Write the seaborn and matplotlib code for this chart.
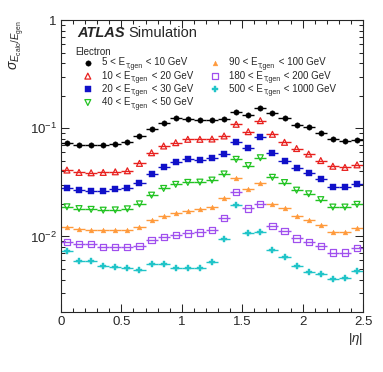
import numpy as np
import pandas as pd
import matplotlib
matplotlib.use("Agg")
import matplotlib.pyplot as plt
import matplotlib.ticker as mticker
import matplotlib.transforms as mtransforms
import seaborn as sns

sns.set_style("ticks")
plt.rcParams["font.family"] = ["Liberation Sans", "DejaVu Sans"]
plt.rcParams["mathtext.fontset"] = "custom"
plt.rcParams["mathtext.rm"] = "Liberation Sans"
plt.rcParams["mathtext.it"] = "Liberation Sans:italic"
plt.rcParams["mathtext.bf"] = "Liberation Sans:bold"

# |eta| bins of width 0.1
eta = np.linspace(0.05, 2.45, 25)
eta_halfwidth = 0.05

# resolution sigma(E_calo/E_gen) per ET bin
res_5_10 = [0.0736, 0.0698, 0.0698, 0.0708, 0.0719, 0.0750, 0.0849, 0.0979, 0.1129, 0.1232,
            0.1224, 0.1189, 0.1201, 0.1219, 0.1425, 0.1319, 0.1542, 0.1377, 0.1251, 0.1073,
            0.1022, 0.0911, 0.0788, 0.0758, 0.0786]
res_10_20 = [0.0411, 0.0391, 0.0388, 0.0391, 0.0396, 0.0405, 0.0474, 0.0594, 0.0686, 0.0736,
             0.0791, 0.0791, 0.0796, 0.0849, 0.1089, 0.0930, 0.1176, 0.0880, 0.0742, 0.0650,
             0.0578, 0.0503, 0.0446, 0.0435, 0.0459]
res_20_30 = [0.0280, 0.0268, 0.0264, 0.0264, 0.0272, 0.0278, 0.0313, 0.0378, 0.0435, 0.0484,
             0.0516, 0.0509, 0.0527, 0.0574, 0.0742, 0.0661, 0.0822, 0.0587, 0.0495, 0.0426,
             0.0390, 0.0339, 0.0286, 0.0288, 0.0304]
res_40_50 = [0.0188, 0.0181, 0.0178, 0.0175, 0.0176, 0.0180, 0.0200, 0.0241, 0.0278, 0.0303,
             0.0316, 0.0318, 0.0332, 0.0378, 0.0516, 0.0452, 0.0534, 0.0352, 0.0315, 0.0268,
             0.0248, 0.0219, 0.0187, 0.0187, 0.0198]
res_90_100 = [0.01227, 0.01163, 0.01151, 0.01136, 0.01136, 0.01156, 0.01219, 0.01425, 0.01532, 0.01633,
              0.01733, 0.01782, 0.01855, 0.02248, 0.0349, 0.0272, 0.0315, 0.0198, 0.01816, 0.01542,
              0.0141, 0.01286, 0.01089, 0.01089, 0.01186]
res_180_200 = [0.00895, 0.00849, 0.00849, 0.00801, 0.00801, 0.00801, 0.00818, 0.00924, 0.00992, 0.01028,
               0.01066, 0.01089, 0.01144, 0.01487, 0.0259, 0.01816, 0.0200, 0.01246, 0.01127, 0.00958,
               0.00891, 0.00817, 0.00711, 0.00711, 0.00788]
res_500_1000 = [0.00736, 0.00591, 0.00591, 0.00539, 0.00523, 0.00506, 0.00488, 0.00554, 0.00554, 0.00506,
                0.00506, 0.00516, 0.00575, 0.00944, 0.0195, 0.01066, 0.01096, 0.00758, 0.00643, 0.00534,
                0.0047, 0.00448, 0.00402, 0.00417, 0.0048]

et_lo = ["5", "10", "20", "40", "90", "180", "500"]
et_hi = ["10", "20", "30", "50", "100", "200", "1000"]
series = [res_5_10, res_10_20, res_20_30, res_40_50, res_90_100, res_180_200, res_500_1000]
colors = ["black", "#e8201e", "#1010c8", "#22c322", "#ff9a3c", "#a050ee", "#20c4c8"]
markers = ["o", "^", "s", "v", "^", "s", "P"]
filled = [True, False, True, False, True, False, True]
sizes = [15, 18, 16, 18, 12, 20, 22]

FS = 7            # legend font size (pt)
FS_PX = FS * 100 / 72.0

fig = plt.figure(figsize=(3.83, 3.72), dpi=100)
ax = fig.add_axes([0.159, 0.161, 0.789, 0.785])

# legend label = "lo < E", the subscript and the rest are added next to it below
for vals, lo, c, m, f, s in zip(series, et_lo, colors, markers, filled, sizes):
    df = pd.DataFrame({"eta": eta, "res": vals})
    ax.errorbar(df["eta"], df["res"], xerr=eta_halfwidth, fmt="none", ecolor=c, elinewidth=1.0,
                capsize=0, zorder=2)
    lab = "%s < E" % lo
    if f:
        sns.scatterplot(data=df, x="eta", y="res", marker=m, color=c, edgecolor=c, s=s,
                        linewidth=0.3, label=lab, ax=ax, zorder=3)
    else:
        sns.scatterplot(data=df, x="eta", y="res", marker=m, color=c, facecolor="none",
                        edgecolor=c, s=s, linewidth=0.9, label=lab, ax=ax, zorder=3)

ax.set_yscale("log")
ax.set_xlim(0, 2.5)
ax.set_ylim(0.002, 1)

ax.xaxis.set_major_locator(mticker.MultipleLocator(0.5))
ax.xaxis.set_minor_locator(mticker.MultipleLocator(0.1))
ax.xaxis.set_major_formatter(mticker.FuncFormatter(lambda v, p: "%g" % v))
ax.yaxis.set_major_locator(mticker.FixedLocator([0.01, 0.1, 1]))
ax.yaxis.set_major_formatter(mticker.FixedFormatter([r"$10^{-2}$", r"$10^{-1}$", "1"]))
ax.yaxis.set_minor_locator(mticker.LogLocator(base=10, subs=np.arange(2, 10)))
ax.yaxis.set_minor_formatter(mticker.NullFormatter())
ax.tick_params(which="both", direction="in", top=True, right=True, labelsize=9.5,
               width=0.75, pad=3)
ax.tick_params(which="major", length=6)
ax.tick_params(which="minor", length=3)
for sp in ax.spines.values():
    sp.set_linewidth(0.8)

ax.set_xlabel(r"$|\eta|$", fontsize=9.5, ha="right")
ax.xaxis.set_label_coords(1.0, -0.065)
ax.xaxis.label.set_va("top")
ax.set_ylabel(r"$\sigma_{E_{\mathrm{calo}}/E_{\mathrm{gen}}}$", fontsize=10, ha="right")
ax.yaxis.set_label_coords(-0.115, 1.0)

ax.text(0.053, 0.942, "ATLAS", transform=ax.transAxes, fontsize=10.5, fontweight="bold",
        fontstyle="italic", va="baseline")
ax.text(0.222, 0.942, "Simulation", transform=ax.transAxes, fontsize=10.5, va="baseline")
ax.text(0.047, 0.882, "Electron", transform=ax.transAxes, fontsize=FS, va="baseline")

# column spacing so that the second column starts where it does in the original
r = fig.canvas.get_renderer()
tmp = [ax.text(0, 0, "%s < E" % lo, fontsize=FS) for lo in et_lo[:4]]
w1 = max(t.get_window_extent(r).width for t in tmp)
for t in tmp:
    t.remove()
leg_x0 = ax.transAxes.transform((0.073, 0))[0]
col2_x = 210.0
cs = (col2_x - (leg_x0 + 2 * FS_PX + w1)) / FS_PX

leg = ax.legend(loc="upper left", bbox_to_anchor=(0.073, 0.872), ncol=2, frameon=False,
                fontsize=FS, handlelength=1.0, handletextpad=1.0, columnspacing=cs,
                labelspacing=0.33, borderpad=0, borderaxespad=0)

fig.canvas.draw()
ident = mtransforms.IdentityTransform()
for t, hi in zip(leg.get_texts(), et_hi):
    bb = t.get_window_extent(r)
    xb, yb = t.get_transform().transform(t.get_position())
    sub = fig.text(bb.x1 + 0.3, yb - 2.6, "T,gen", fontsize=5, transform=ident, va="baseline")
    sbb = sub.get_window_extent(r)
    fig.text(sbb.x1 + 0.3, yb, " < %s GeV" % hi, fontsize=FS, transform=ident, va="baseline")

fig.savefig("out.png", dpi=100)
